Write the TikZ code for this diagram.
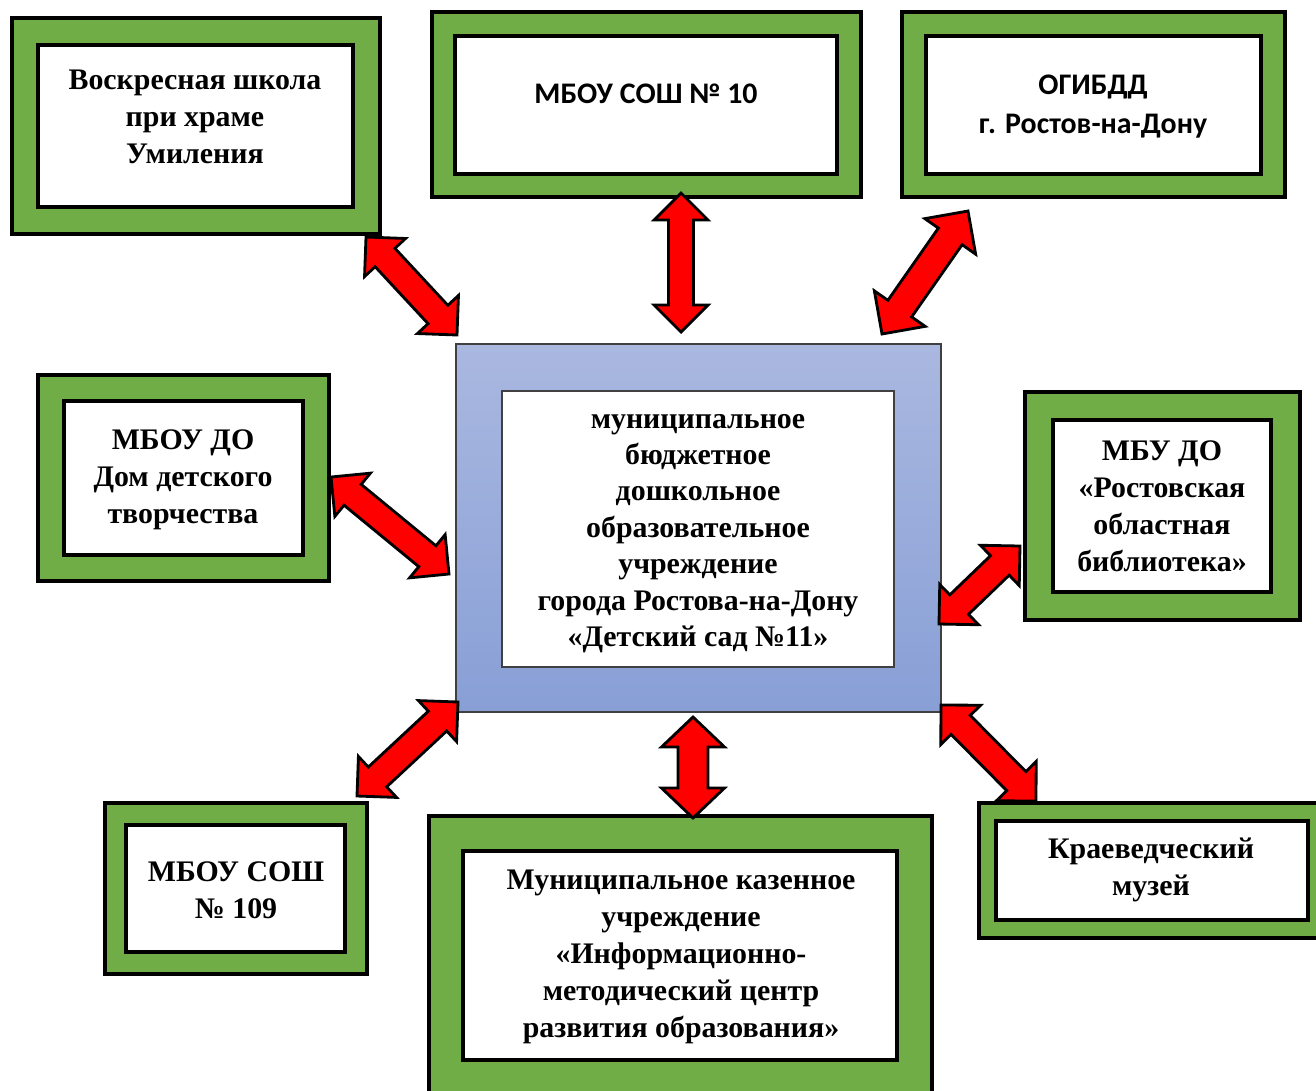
\documentclass[tikz,border=0pt]{standalone}
\usepackage{fontspec}
\setmainfont{Liberation Serif}
\newfontfamily\calibfont{Carlito}
\usetikzlibrary{calc}

\definecolor{frameg}{HTML}{70AD47}
\definecolor{hubtop}{HTML}{AAB8E0}
\definecolor{hubbot}{HTML}{889FD6}
\definecolor{linkred}{HTML}{FF0000}

\newcommand{\linkarrow}[5]{%
  \draw[linkarrow] (#1)
    -- ($(#1)!#3!(#2)!#4!90:(#2)$) -- ($(#1)!#3!(#2)!#5!90:(#2)$)
    -- ($(#2)!#3!(#1)!#5!-90:(#1)$) -- ($(#2)!#3!(#1)!#4!-90:(#1)$)
    -- (#2)
    -- ($(#2)!#3!(#1)!#4!90:(#1)$) -- ($(#2)!#3!(#1)!#5!90:(#1)$)
    -- ($(#1)!#3!(#2)!#5!-90:(#2)$) -- ($(#1)!#3!(#2)!#4!-90:(#2)$)
    -- cycle;}

\tikzset{
  frame/.style={draw=black, line width=2.3pt, fill=frameg, inner sep=0pt, outer sep=0pt},
  card/.style={draw=black, line width=2pt, fill=white, inner sep=0pt, outer sep=0pt},
  hub/.style={draw=black!75, line width=0.6pt, top color=hubtop, bottom color=hubbot, inner sep=0pt, outer sep=0pt},
  hubcard/.style={draw=black!75, line width=0.6pt, fill=white, inner sep=0pt, outer sep=0pt},
  sz/.style 2 args={minimum width=#1*0.02cm, minimum height=#2*0.02cm},
  serif/.style={align=center, inner sep=0pt, font=\fontsize{17}{21}\selectfont\bfseries},
  sans/.style={align=center, inner sep=0pt, font=\calibfont\fontsize{17}{22}\selectfont\bfseries},
  linkarrow/.style={draw=black, line width=1.6pt, fill=linkred, line join=miter},
}

\begin{document}
\begin{tikzpicture}[x=0.02cm, y=-0.02cm]
  \useasboundingbox (0,0) rectangle (1316,1090);
  \clip (0,0) rectangle (1316,1090);

  \node[frame, sz={368}{216}] (school) at (196,126) {};
  \node[card, sz={315}{162}] (schoolin) at (195.5,126) {};
  \node[serif] (schooltxt) at (195,117) {Воскресная школа\\при храме\\Умиления};

  \node[frame, sz={429}{185}] (sosh10) at (646.5,104.5) {};
  \node[card, sz={382}{138}] (sosh10in) at (646,105) {};
  \node[sans] (sosh10txt) at (646,94) {МБОУ СОШ № 10};

  \node[frame, sz={383}{185}] (gibdd) at (1093.5,104.5) {};
  \node[card, sz={335}{138}] (gibddin) at (1093.5,105) {};
  \node[sans] (gibddtxt) at (1093,106.5) {ОГИБДД\\г. Ростов-на-Дону};

  \node[frame, sz={291}{206}] (ddt) at (183.5,478) {};
  \node[card, sz={239}{154}] (ddtin) at (183.5,478) {};
  \node[serif] (ddttxt) at (183,480) {МБОУ ДО\\Дом детского\\творчества};

  \node[frame, sz={275}{228}] (library) at (1162.5,506) {};
  \node[card, sz={218}{172}] (libraryin) at (1162,506) {};
  \node[serif] (librarytxt) at (1162,506) {МБУ ДО\\«Ростовская\\областная\\библиотека»};

  \node[frame, sz={262}{171}] (sosh109) at (236,888.5) {};
  \node[card, sz={219}{127}] (sosh109in) at (235.5,888.5) {};
  \node[serif] (sosh109txt) at (236,890) {МБОУ СОШ\\№ 109};

  \node[frame, sz={503}{279}] (imc) at (680.5,955.5) {};
  \node[card, sz={434}{209}] (imcin) at (680,955.5) {};
  \node[serif] (imctxt) at (681,957) {Муниципальное казенное\\учреждение\\«Информационно-\\методический центр\\развития образования»};

  \node[frame, sz={341}{135}] (museum) at (1149.5,870.5) {};
  \node[card, sz={312}{99}] (museumin) at (1152,870.5) {};
  \node[serif] (museumtxt) at (1151,869.5) {Краеведческий\\музей};

  \node[hub, sz={485}{368}] (kg) at (698.5,528) {};
  \node[hubcard, sz={392}{276}] (kgin) at (698,529) {};
  \node[serif, font=\fontsize{17}{20.7}\selectfont\bfseries] (kgtxt) at (698,533.5)
    {муниципальное\\бюджетное\\дошкольное\\образовательное\\учреждение\\города Ростова-на-Дону\\«Детский сад №11»};

  \coordinate (a1s) at ($(school.south east)+(-14,3)$);
  \coordinate (a1e) at ($(kg.north west)+(1,-9)$);
  \coordinate (a2s) at ($(sosh10.south)+(34.5,-4)$);
  \coordinate (a2e) at ($(kg.north)+(-17.5,-12)$);
  \coordinate (a3s) at ($(gibdd.south west)+(66,14)$);
  \coordinate (a3e) at ($(kg.north east)+(-59,-10)$);
  \coordinate (a4s) at ($(ddt.east)+(2,-1)$);
  \coordinate (a4e) at ($(kg.west)+(-7,46)$);
  \coordinate (a5s) at ($(library.west)+(-5,40)$);
  \coordinate (a5e) at ($(kg.east)+(-2,96)$);
  \coordinate (a6s) at ($(sosh109.north east)+(-10,-7)$);
  \coordinate (a6e) at ($(kg.south west)+(2,-10)$);
  \coordinate (a7s) at ($(imc.north)+(12.5,2)$);
  \coordinate (a7e) at ($(kg.south)+(-5.5,5)$);
  \coordinate (a8s) at ($(museum.north west)+(57,-2)$);
  \coordinate (a8e) at ($(kg.south east)+(0,-7)$);

  \linkarrow{a1s}{a1e}{0.56cm}{0.56cm}{0.27cm}
  \linkarrow{a2s}{a2e}{0.54cm}{0.54cm}{0.25cm}
  \linkarrow{a3s}{a3e}{0.62cm}{0.62cm}{0.29cm}
  \linkarrow{a4s}{a4e}{0.56cm}{0.56cm}{0.27cm}
  \linkarrow{a5s}{a5e}{0.56cm}{0.56cm}{0.27cm}
  \linkarrow{a6s}{a6e}{0.56cm}{0.56cm}{0.27cm}
  \linkarrow{a7s}{a7e}{0.60cm}{0.63cm}{0.30cm}
  \linkarrow{a8s}{a8e}{0.56cm}{0.56cm}{0.27cm}
\end{tikzpicture}
\end{document}
